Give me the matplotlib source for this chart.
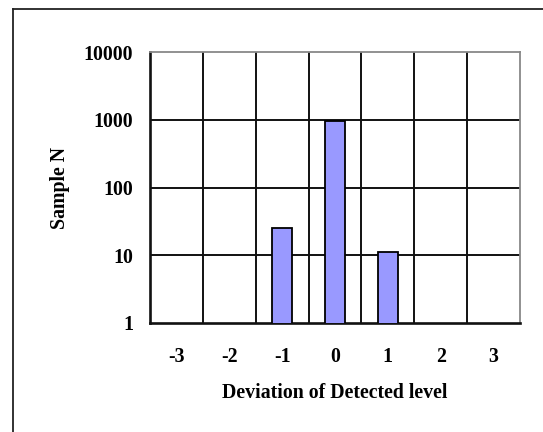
import matplotlib.pyplot as plt
from matplotlib.lines import Line2D

# Sample counts per deviation of detected level
deviation = [-3, -2, -1, 0, 1, 2, 3]
sample_n = [0, 0, 25, 950, 11, 0, 0]
ytick_vals = [1, 10, 100, 1000, 10000]
ytick_labels = ['1', '10', '100', '1000', '10000']

plt.rcParams['font.family'] = ['Liberation Serif', 'DejaVu Serif']
plt.rcParams['font.weight'] = 'bold'

W, H = 543, 432
fig = plt.figure(figsize=(W / 100, H / 100), dpi=100)

# outer frame (left and top edges visible)
fig.add_artist(Line2D([13 / W, 13 / W], [0, 1 - 8.5 / H], transform=fig.transFigure,
                      color='#222222', lw=1.3))
fig.add_artist(Line2D([13 / W, 1], [1 - 8.5 / H, 1 - 8.5 / H], transform=fig.transFigure,
                      color='#222222', lw=1.3))

left, right, top, bottom = 150, 520, 52, 323
ax = fig.add_axes([left / W, 1 - bottom / H, (right - left) / W, (bottom - top) / H])

xpos = list(range(len(deviation)))
heights = [v if v > 0 else 0 for v in sample_n]
ax.bar(xpos, heights, width=0.38, color='#9999FF', edgecolor='black', linewidth=1.3,
       zorder=3)

ax.set_yscale('log')
ax.set_ylim(1, 10000)
ax.set_xlim(-0.5, len(deviation) - 0.5)

# category boundaries as vertical grid lines
for b in range(1, len(deviation)):
    ax.axvline(b - 0.5, color='#111111', lw=1.4, zorder=1)
for v in ytick_vals[1:-1]:
    ax.axhline(v, color='#111111', lw=1.4, zorder=1)

ax.set_yticks(ytick_vals)
ax.set_yticklabels(ytick_labels)
ax.minorticks_off()
ax.set_xticks(xpos)
ax.set_xticklabels([str(d) for d in deviation])
ax.tick_params(axis='both', length=0, labelsize=14.3)
ax.tick_params(axis='y', pad=12)
ax.tick_params(axis='x', pad=17)

for side in ['left', 'bottom']:
    ax.spines[side].set_color('#111111')
    ax.spines[side].set_linewidth(1.9)
for side in ['top', 'right']:
    ax.spines[side].set_color('#888888')
    ax.spines[side].set_linewidth(1.3)

ax.set_xlabel('Deviation of Detected level', fontsize=14.3, fontweight='bold', labelpad=12)
ax.set_ylabel('Sample N', fontsize=14.3, fontweight='bold', labelpad=10)

fig.savefig('out.png', dpi=100)
